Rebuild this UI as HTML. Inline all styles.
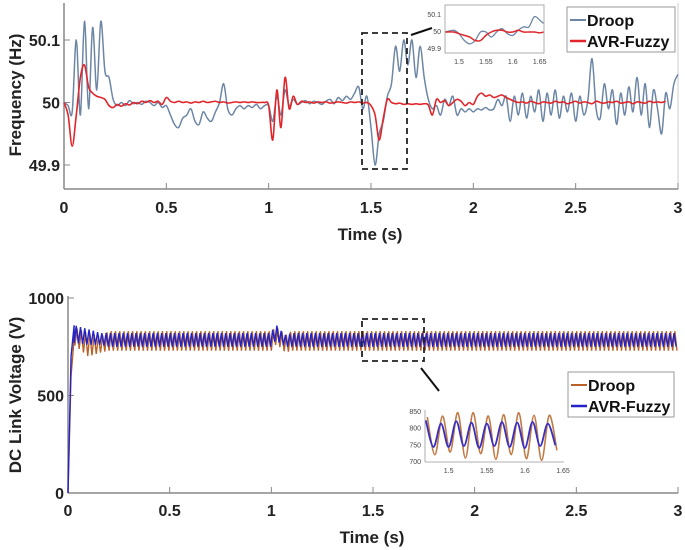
<!DOCTYPE html>
<html><head><meta charset="utf-8"><style>
html,body{margin:0;padding:0;background:#fff;}
svg{display:block;font-family:"Liberation Sans",Arial,sans-serif;}
</style></head><body>
<svg id="chart" width="685" height="550" viewBox="0 0 685 550" xmlns="http://www.w3.org/2000/svg"></svg>
<script>
// ---------- Data ----------
const freqStep = 0.02;
const droopFreqDev = [0,-5,-15,100,-20,130,-10,120,20,130,50,40,5,-5,0,-5,3,-2,0,-3,2,0,-5,0,-8,-5,-20,-35,-40,-25,-20,-10,-30,-35,-15,-25,-30,-15,0,30,-10,-20,-10,-5,-10,-5,-8,-3,-10,-5,-5,-30,10,-20,20,-5,5,-3,0,3,-2,2,0,-3,2,5,-2,8,3,10,5,15,25,-10,10,-40,-100,-50,-30,10,30,90,50,100,60,100,40,90,40,5,-10,-5,-20,5,-5,10,-20,-10,-15,-10,-15,-10,-12,-8,-12,-10,5,-5,10,-30,10,-20,15,-25,10,-15,20,-30,15,-20,20,-25,10,-15,15,-30,10,-20,5,70,-10,-25,30,-10,20,-35,15,-20,25,-15,40,-20,30,-40,20,-10,-50,15,-10,30,45];
const avrFreqDev = [0,-20,-70,-20,40,60,25,15,10,8,5,-5,-8,-3,-6,-2,-4,0,-2,2,0,3,0,2,-3,8,2,0,2,0,1,-1,1,0,2,0,1,2,0,1,-1,0,1,0,1,0,1,0,0,0,-5,-60,20,-40,40,-10,10,-3,2,0,1,-1,1,0,1,-1,0,1,0,-1,1,0,1,-1,0,-5,-20,-60,-25,5,0,-2,-1,-3,-2,-3,-2,-3,-2,-4,-20,5,0,3,-5,0,5,2,-5,0,-3,10,15,10,12,8,10,12,8,5,2,0,1,-1,2,0,-2,1,0,-1,2,0,1,-2,0,2,-1,1,0,-2,2,0,-1,1,0,2,-1,0,1,-2,1,0,-1,2,0,1,0,2];
const freqYTicks = [49.9, 50, 50.1];
const freqYTickLabels = ["49.9","50","50.1"];
const xTicks = [0,0.5,1,1.5,2,2.5,3];
const xTickLabels = ["0","0.5","1","1.5","2","2.5","3"];
// freq inset
const insetFreqT = [1.475,1.49,1.50,1.51,1.52,1.53,1.54,1.55,1.56,1.57,1.58,1.59,1.60,1.61,1.62,1.63,1.64,1.65,1.657];
const insetDroopF = [50.0,50.01,49.99,49.95,49.93,49.95,50.0,50.0,49.97,50.0,50.02,49.99,49.98,50.01,50.03,50.03,50.09,50.07,50.05];
const insetAvrF = [50.0,50.0,49.99,49.98,49.97,49.95,49.95,49.98,50.0,50.01,50.01,50.0,50.0,50.01,50.0,50.0,50.0,49.995,50.0];
const insetXTicks = [1.5,1.55,1.6,1.65];
const insetXTickLabels = ["1.5","1.55","1.6","1.65"];
const insetFYTicks = [49.9,50,50.1];
const insetFYTickLabels = ["49.9","50","50.1"];
// DC link
const dcYTicks = [0,500,1000];
const dcYTickLabels = ["0","500","1000"];
const rampT = [0,0.015,0.03];
const rampDroop = [0,600,790];
const rampAvr = [0,700,860];
const envT = [0.03,0.1,0.16,0.2,1.0,1.02,1.04,1.07,1.1,3.0];
const droopHi = [850,820,800,830,830,850,840,810,830,830];
const droopLo = [760,700,720,730,730,760,750,720,730,730];
const avrHi = [860,840,820,820,820,870,840,810,820,820];
const avrLo = [770,760,760,750,750,780,770,750,750,750];
const halfPeriod = 0.0105;
// DC inset
const insetDcT0 = 1.47;
const insetDcStep = 0.01;
const insetDroopPeaks = [835,722,838,730,848,712,848,725,838,708,842,722,848,710,840,705,840,735];
const insetAvrPeaks = [825,745,815,745,822,748,818,742,815,748,820,745,818,742,820,748,815,750];
const insetDcYTicks = [700,750,800,850];
const insetDcYTickLabels = ["700","750","800","850"];

// ---------- Helpers ----------
const svg = document.getElementById('chart');
const NS = "http://www.w3.org/2000/svg";
function mk(tag, attrs, parent){const e=document.createElementNS(NS,tag);for(const k in attrs)e.setAttribute(k,attrs[k]);(parent||svg).appendChild(e);return e;}
function lin(d0,d1,r0,r1){return v=>r0+(v-d0)*(r1-r0)/(d1-d0);}
function interp(ts,vs,t){if(t<=ts[0])return vs[0];for(let i=1;i<ts.length;i++){if(t<=ts[i]){const f=(t-ts[i-1])/(ts[i]-ts[i-1]);return vs[i-1]+f*(vs[i]-vs[i-1]);}}return vs[vs.length-1];}
function smoothPath(pts){let d="M"+pts[0][0].toFixed(2)+","+pts[0][1].toFixed(2);for(let i=0;i<pts.length-1;i++){const p0=pts[i-1]||pts[i],p1=pts[i],p2=pts[i+1],p3=pts[i+2]||p2;const c1=[p1[0]+(p2[0]-p0[0])/6,p1[1]+(p2[1]-p0[1])/6];const c2=[p2[0]-(p3[0]-p1[0])/6,p2[1]-(p3[1]-p1[1])/6];d+="C"+c1[0].toFixed(2)+","+c1[1].toFixed(2)+" "+c2[0].toFixed(2)+","+c2[1].toFixed(2)+" "+p2[0].toFixed(2)+","+p2[1].toFixed(2);}return d;}

const axisCol="#888";
// ---------- Top panel ----------
const fx = lin(0,3,64,678), fy = lin(49.9,50.1,165,40);
const g1 = mk('g',{});
mk('line',{x1:64,y1:3,x2:64,y2:189,stroke:axisCol,'stroke-width':1.5,},g1);
mk('line',{x1:64,y1:189,x2:678,y2:189,stroke:axisCol,'stroke-width':1.5,},g1);
mk('line',{x1:678,y1:3,x2:678,y2:189,stroke:"#ccc",'stroke-width':1,},g1);
xTicks.forEach((t,i)=>{
  mk('line',{x1:fx(t),y1:189,x2:fx(t),y2:183,stroke:axisCol,'stroke-width':1},g1);
  const tx=mk('text',{x:fx(t),y:213,'text-anchor':'middle','font-size':16,'font-weight':'bold',fill:'#222'},g1);
  
  
  tx.textContent=xTickLabels[i];
});
freqYTicks.forEach((v,i)=>{
  mk('line',{x1:64,y1:fy(v),x2:70,y2:fy(v),stroke:axisCol,'stroke-width':1},g1);
  const tx=mk('text',{x:60,y:fy(v)+6,'text-anchor':'end','font-size':16,'font-weight':'bold',fill:'#222'},g1);
  
  
  tx.textContent=freqYTickLabels[i];
});
let t1=mk('text',{x:370,y:240,'text-anchor':'middle','font-size':17,'font-weight':'bold',fill:'#222',},g1);t1.textContent="Time (s)";
let t2=mk('text',{x:0,y:0,transform:'translate(21,95) rotate(-90)','text-anchor':'middle','font-size':17,'font-weight':'bold',fill:'#222',},g1);t2.textContent="Frequency (Hz)";
function freqPath(arr){return smoothPath(arr.map((v,i)=>[fx(i*freqStep),fy(50+v/1000)]));}
mk('path',{d:freqPath(droopFreqDev),fill:'none',stroke:'#6d86a6','stroke-width':1.5,},g1);
mk('path',{d:freqPath(avrFreqDev),fill:'none',stroke:'#e0262b','stroke-width':1.6,},g1);
mk('rect',{x:362,y:33,width:45,height:136,fill:'none',stroke:'#222','stroke-width':1.8,'stroke-dasharray':'6,4',},g1);
mk('line',{x1:411,y1:35,x2:432,y2:28,stroke:'#111','stroke-width':2,},g1);
// inset
const ix=lin(1.474,1.658,445,544), iy=lin(49.9,50.1,49,15);
const gi=mk('g',{},g1);
mk('rect',{x:445,y:5,width:99,height:48,fill:'#fff',stroke:'#999','stroke-width':0.8},gi);
insetXTicks.forEach((t,i)=>{const tx=mk('text',{x:ix(t),y:64,'text-anchor':'middle','font-size':7,fill:'#444'},gi);
  
  
  tx.textContent=insetXTickLabels[i];});
insetFYTicks.forEach((v,i)=>{const tx=mk('text',{x:441,y:iy(v)+2,'text-anchor':'end','font-size':7,fill:'#444'},gi);
  
  
  tx.textContent=insetFYTickLabels[i];});
mk('path',{d:smoothPath(insetFreqT.map((t,i)=>[ix(t),iy(insetDroopF[i])])),fill:'none',stroke:'#6d86a6','stroke-width':1.3,},gi);
mk('path',{d:smoothPath(insetFreqT.map((t,i)=>[ix(t),iy(insetAvrF[i])])),fill:'none',stroke:'#e0262b','stroke-width':1.5,},gi);
// legend
const lg=mk('g',{},g1);
mk('rect',{x:567,y:7,width:108,height:45,fill:'#fff',stroke:'#999','stroke-width':1},lg);
mk('line',{x1:570,y1:20,x2:586,y2:20,stroke:'#6d86a6','stroke-width':2},lg);
mk('line',{x1:570,y1:41,x2:586,y2:41,stroke:'#e0262b','stroke-width':2.5},lg);
let l1=mk('text',{x:587,y:26,'font-size':16,'font-weight':'bold',fill:'#111',},lg);l1.textContent="Droop";
let l2=mk('text',{x:587,y:47,'font-size':16,'font-weight':'bold',fill:'#111',},lg);l2.textContent="AVR-Fuzzy";

// ---------- Bottom panel ----------
const dx=lin(0,3,68,678), dy=lin(0,1000,493,298);
const g2=mk('g',{});
mk('line',{x1:68,y1:296,x2:68,y2:493,stroke:axisCol,'stroke-width':1.5,},g2);
mk('line',{x1:68,y1:493,x2:678,y2:493,stroke:axisCol,'stroke-width':1.5,},g2);
xTicks.forEach((t,i)=>{
  mk('line',{x1:dx(t),y1:493,x2:dx(t),y2:487,stroke:axisCol,'stroke-width':1},g2);
  const tx=mk('text',{x:dx(t),y:516,'text-anchor':'middle','font-size':16,'font-weight':'bold',fill:'#222'},g2);
  
  
  tx.textContent=xTickLabels[i];
});
dcYTicks.forEach((v,i)=>{
  mk('line',{x1:68,y1:dy(v),x2:74,y2:dy(v),stroke:axisCol,'stroke-width':1},g2);
  const tx=mk('text',{x:64,y:dy(v)+6,'text-anchor':'end','font-size':16,'font-weight':'bold',fill:'#222'},g2);
  
  
  tx.textContent=dcYTickLabels[i];
});
let t3=mk('text',{x:372,y:543,'text-anchor':'middle','font-size':17,'font-weight':'bold',fill:'#222',},g2);t3.textContent="Time (s)";
let t4=mk('text',{x:0,y:0,transform:'translate(21,395) rotate(-90)','text-anchor':'middle','font-size':17,'font-weight':'bold',fill:'#222',},g2);t4.textContent="DC Link Voltage (V)";
function dcPath(rT,rV,hi,lo,phase){let pts=rT.map((t,i)=>[dx(t),dy(rV[i])]);let k=0;for(let t=envT[0]+phase;t<=3.0;t+=halfPeriod,k++){const v=(k%2===0)?interp(envT,lo,t):interp(envT,hi,t);pts.push([dx(t),dy(v)]);}return "M"+pts.map(p=>p[0].toFixed(2)+","+p[1].toFixed(2)).join("L");}
mk('path',{d:dcPath(rampT,rampDroop,droopHi,droopLo,0.004),fill:'none',stroke:'#b8622a','stroke-width':1.4,},g2);
mk('path',{d:dcPath(rampT,rampAvr,avrHi,avrLo,0.0),fill:'none',stroke:'#2323c8','stroke-width':1.4,},g2);
mk('rect',{x:362,y:319,width:62,height:42,fill:'none',stroke:'#222','stroke-width':1.8,'stroke-dasharray':'6,4',},g2);
mk('line',{x1:421,y1:368,x2:439,y2:391,stroke:'#111','stroke-width':2,},g2);
// inset
const jx=lin(1.469,1.65,425,563), jy=lin(700,850,462,412);
const gj=mk('g',{},g2);
mk('line',{x1:425,y1:410,x2:425,y2:462,stroke:'#999','stroke-width':0.8},gj);
mk('line',{x1:425,y1:462,x2:564,y2:462,stroke:'#999','stroke-width':0.8},gj);
insetXTicks.forEach((t,i)=>{const tx=mk('text',{x:jx(t),y:473,'text-anchor':'middle','font-size':7,fill:'#444'},gj);
  
  
  tx.textContent=insetXTickLabels[i];});
insetDcYTicks.forEach((v,i)=>{const tx=mk('text',{x:421,y:jy(v)+2,'text-anchor':'end','font-size':7,fill:'#444'},gj);
  
  
  tx.textContent=insetDcYTickLabels[i];});
mk('path',{d:smoothPath(insetDroopPeaks.map((v,i)=>[jx(insetDcT0+0.002+i*insetDcStep),jy(v)])),fill:'none',stroke:'#c07a45','stroke-width':1.6,},gj);
mk('path',{d:smoothPath(insetAvrPeaks.map((v,i)=>[jx(insetDcT0+i*insetDcStep),jy(v)])),fill:'none',stroke:'#3a2fc0','stroke-width':1.8,},gj);
// legend
const lg2=mk('g',{},g2);
mk('rect',{x:568,y:372,width:106,height:45,fill:'#fff',stroke:'#999','stroke-width':1},lg2);
mk('line',{x1:571,y1:385,x2:587,y2:385,stroke:'#b8622a','stroke-width':2},lg2);
mk('line',{x1:571,y1:406,x2:587,y2:406,stroke:'#2323c8','stroke-width':2.5},lg2);
let l3=mk('text',{x:588,y:391,'font-size':16,'font-weight':'bold',fill:'#111',},lg2);l3.textContent="Droop";
let l4=mk('text',{x:588,y:412,'font-size':16,'font-weight':'bold',fill:'#111',},lg2);l4.textContent="AVR-Fuzzy";
</script>
</body></html>
